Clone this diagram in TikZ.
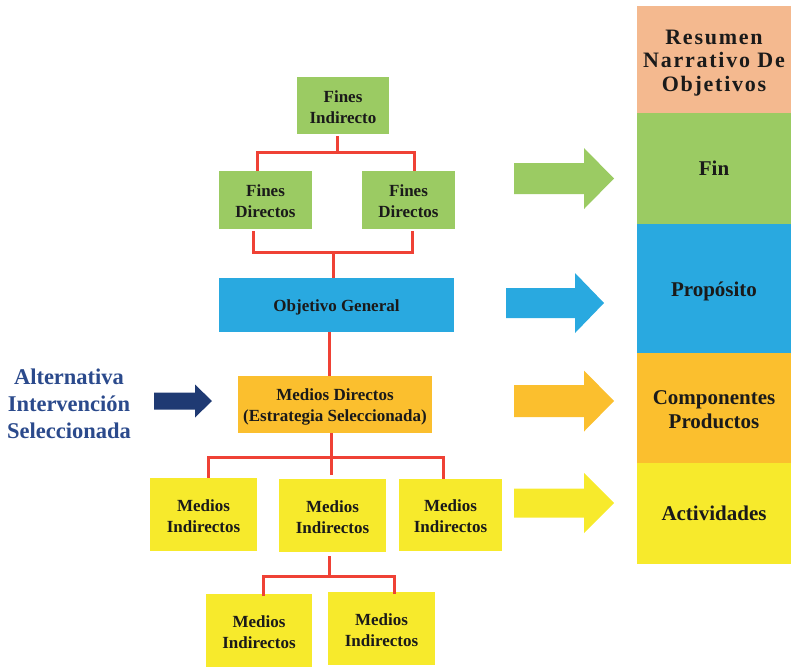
\documentclass[tikz,border=0pt]{standalone}
\usepackage{fontspec}
\setmainfont{Liberation Serif}
\definecolor{fgreen}{HTML}{9BCB63}
\definecolor{pblue}{HTML}{29A9E0}
\definecolor{corange}{HTML}{FBBF2E}
\definecolor{myellow}{HTML}{F7EA2C}
\definecolor{peach}{HTML}{F4B98F}
\definecolor{treered}{HTML}{EF4135}
\definecolor{navytext}{HTML}{2B4A8C}
\definecolor{navyarrow}{HTML}{1F3A73}
\definecolor{inktext}{HTML}{1A1A1A}
\newcommand\boxfont{\bfseries\fontsize{17}{21}\selectfont}
\newcommand\cellfont{\bfseries\fontsize{21}{24}\selectfont}
\newcommand\titlefont{\bfseries\fontsize{22}{23.5}\selectfont\addfontfeature{LetterSpace=8}}
\newcommand\sidefont{\bfseries\fontsize{22.5}{27}\selectfont}
% invisible strut that lowers a centred text block a little
\newcommand\lift[1]{\rule{0pt}{#1}}
% block arrow: colour, x start, x neck, x tip, y middle, shaft half height, head half height
\newcommand\drawblockarrow[7]{%
  \fill[#1] (#2,#5-#6) -- (#3,#5-#6) -- (#3,#5-#7) -- (#4,#5)
    -- (#3,#5+#7) -- (#3,#5+#6) -- (#2,#5+#6) -- cycle;}
\begin{document}
\begin{tikzpicture}[x=1pt,y=-1pt,
  box/.style={fill=#1, draw=none, inner sep=0pt, align=center, font=\boxfont, text=inktext},
  cell/.style={fill=#1, draw=none, inner sep=0pt, align=center, minimum width=154pt, font=\cellfont, text=inktext},
  tree/.style={draw=treered, line width=3pt, line join=miter},
]
\useasboundingbox (0,0) rectangle (791,667);

% objective tree
\node[box=fgreen, minimum width=92pt, minimum height=57pt] (fi) at (343,105.5) {\lift{15pt}Fines\\Indirecto};
\node[box=fgreen, minimum width=93pt, minimum height=58pt] (fd1) at (265.5,200) {\lift{15pt}Fines\\Directos};
\node[box=fgreen, minimum width=93pt, minimum height=58pt] (fd2) at (408.5,200) {\lift{15pt}Fines\\Directos};
\node[box=pblue, minimum width=235pt, minimum height=54pt] (og) at (336.5,305) {\lift{17.5pt}Objetivo General};
\node[box=corange, minimum width=194pt, minimum height=57pt] (md) at (335,404.5) {\lift{17pt}Medios Directos\\(Estrategia Seleccionada)};
\node[box=myellow, minimum width=107pt, minimum height=73pt] (mi1) at (203.5,514.5) {\lift{15pt}Medios\\Indirectos};
\node[box=myellow, minimum width=107pt, minimum height=73pt] (mi2) at (332.5,515.5) {\lift{15pt}Medios\\Indirectos};
\node[box=myellow, minimum width=103pt, minimum height=72pt] (mi3) at (450.5,515) {\lift{15pt}Medios\\Indirectos};
\node[box=myellow, minimum width=106pt, minimum height=73pt] (mi4) at (259,630.5) {\lift{15pt}Medios\\Indirectos};
\node[box=myellow, minimum width=107pt, minimum height=73pt] (mi5) at (381.5,628.5) {\lift{15pt}Medios\\Indirectos};

% summary column
\node[cell=peach, minimum height=107pt, font=\titlefont] (r0) at (714,59.5) {\lift{21.5pt}Resumen\\Narrativo De\\Objetivos};
\node[cell=fgreen, minimum height=111pt] (r1) at (714,168.5) {Fin};
\node[cell=pblue, minimum height=129pt] (r2) at (714,288.5) {\lift{21pt}Propósito};
\node[cell=corange, minimum height=110pt] (r3) at (714,408) {\lift{18pt}Componentes\\Productos};
\node[cell=myellow, minimum height=101pt] (r4) at (714,513.5) {Actividades};

% side label
\node[font=\sidefont, text=navytext, align=center, inner sep=0pt] (alt) at (69,404) {Alternativa\\Intervención\\Seleccionada};

% tree connectors
\coordinate (b1l) at (257,152); \coordinate (b1m) at (337,152); \coordinate (b1r) at (414,152);
\draw[tree] ([yshift=-2pt]b1m |- fi.south) -- (b1m);
\draw[tree] (b1l |- fd1.north) -- (b1l) -- (b1r) -- (b1r |- fd2.north);

\coordinate (b2l) at (253,252); \coordinate (b2m) at (333,252); \coordinate (b2r) at (412,252);
\draw[tree] ([yshift=-2pt]b2l |- fd1.south) -- (b2l) -- (b2r) -- ([yshift=-2pt]b2r |- fd2.south);
\draw[tree] (b2m) -- (b2m |- og.north);

\coordinate (c1) at (329,355);
\draw[tree] (c1 |- og.south) -- (c1 |- md.north);

\coordinate (b3l) at (208,457); \coordinate (b3m) at (331,457); \coordinate (b3r) at (443,457);
\draw[tree] (b3m |- md.south) -- ([yshift=4pt]b3m |- mi2.north);
\draw[tree] (b3l |- mi1.north) -- (b3l) -- (b3r) -- (b3r |- mi3.north);

\coordinate (b4l) at (263,576); \coordinate (b4m) at (329,576); \coordinate (b4r) at (394,576);
\draw[tree] ([yshift=-4pt]b4m |- mi2.south) -- (b4m);
\draw[tree] ([yshift=-2pt]b4l |- mi4.north) -- (b4l) -- (b4r) -- ([yshift=-2pt]b4r |- mi5.north);

% block arrows towards the summary column
\drawblockarrow{fgreen}{514}{584}{614}{178.5}{15.5}{30.5}
\drawblockarrow{pblue}{506}{575}{604}{303}{15}{30}
\drawblockarrow{corange}{514}{584}{614}{401}{16}{30.5}
\drawblockarrow{myellow}{514}{584}{614}{503}{14.5}{30}
\drawblockarrow{navyarrow}{154}{195}{212}{401}{8.5}{16.5}
\end{tikzpicture}
\end{document}
